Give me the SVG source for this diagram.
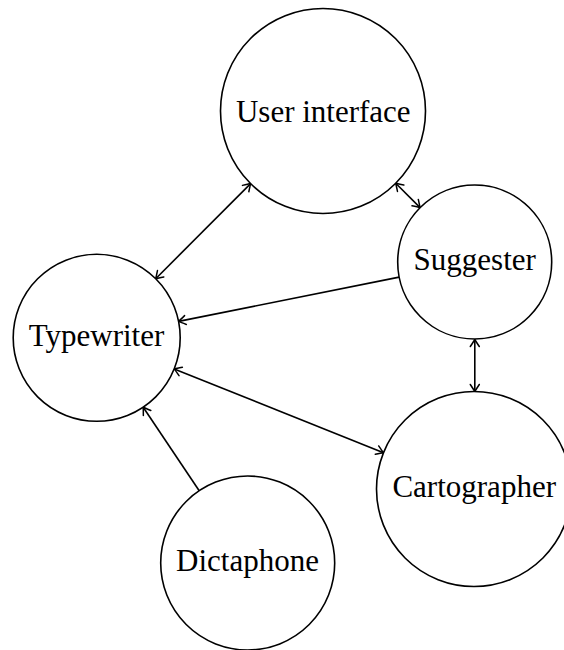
<svg xmlns="http://www.w3.org/2000/svg" width="564" height="650" viewBox="0 0 564 650">
  <style>
    .node circle { fill: #ffffff; stroke: #000000; stroke-width: 1.6; }
    .node text { font-family: "Liberation Serif", "Times New Roman", serif; font-size: 31px; fill: #000000; text-anchor: middle; }
    .edge { stroke: #000000; stroke-width: 1.6; fill: none; }
  </style>
  <defs>
    <marker id="tip" markerUnits="userSpaceOnUse" viewBox="-9 -6 11 12" refX="0" refY="0" markerWidth="11" markerHeight="12" orient="auto-start-reverse">
      <path d="M -7 -4.5 Q -2 -1.2 0 0 Q -2 1.2 -7 4.5" fill="none" stroke="#000000" stroke-width="1.5" stroke-linecap="round"/>
    </marker>
  </defs>

  <rect width="564" height="650" fill="#ffffff"/>

  <g id="connectors">
    <!-- Typewriter <-> User interface -->
    <line class="edge" x1="155.7" y1="278.7" x2="250.6" y2="183.6" marker-start="url(#tip)" marker-end="url(#tip)"/>
    <!-- User interface <-> Suggester -->
    <line class="edge" x1="395.7" y1="183.3" x2="420.1" y2="207.6" marker-start="url(#tip)" marker-end="url(#tip)"/>
    <!-- Suggester -> Typewriter -->
    <line class="edge" x1="399.2" y1="277.1" x2="178.6" y2="321.4" marker-end="url(#tip)"/>
    <!-- Suggester <-> Cartographer -->
    <line class="edge" x1="474.8" y1="339.5" x2="474.8" y2="391.5" marker-start="url(#tip)" marker-end="url(#tip)"/>
    <!-- Typewriter <-> Cartographer -->
    <line class="edge" x1="174.2" y1="368.9" x2="383.5" y2="452.7" marker-start="url(#tip)" marker-end="url(#tip)"/>
    <!-- Dictaphone -> Typewriter -->
    <line class="edge" x1="199.2" y1="490.7" x2="143.2" y2="407.2" marker-end="url(#tip)"/>
  </g>

  <g id="user-interface" class="node">
    <circle cx="323" cy="111" r="102.5"/>
    <text x="323.3" y="121.7">User interface</text>
  </g>
  <g id="suggester" class="node">
    <circle cx="474.7" cy="262" r="77"/>
    <text x="474.7" y="270">Suggester</text>
  </g>
  <g id="typewriter" class="node">
    <circle cx="96.7" cy="337.8" r="83.5"/>
    <text x="96.5" y="346">Typewriter</text>
  </g>
  <g id="cartographer" class="node">
    <circle cx="474" cy="489" r="97.5"/>
    <text x="474.2" y="497.3">Cartographer</text>
  </g>
  <g id="dictaphone" class="node">
    <circle cx="247.7" cy="563" r="87"/>
    <text x="247.5" y="571">Dictaphone</text>
  </g>
</svg>
